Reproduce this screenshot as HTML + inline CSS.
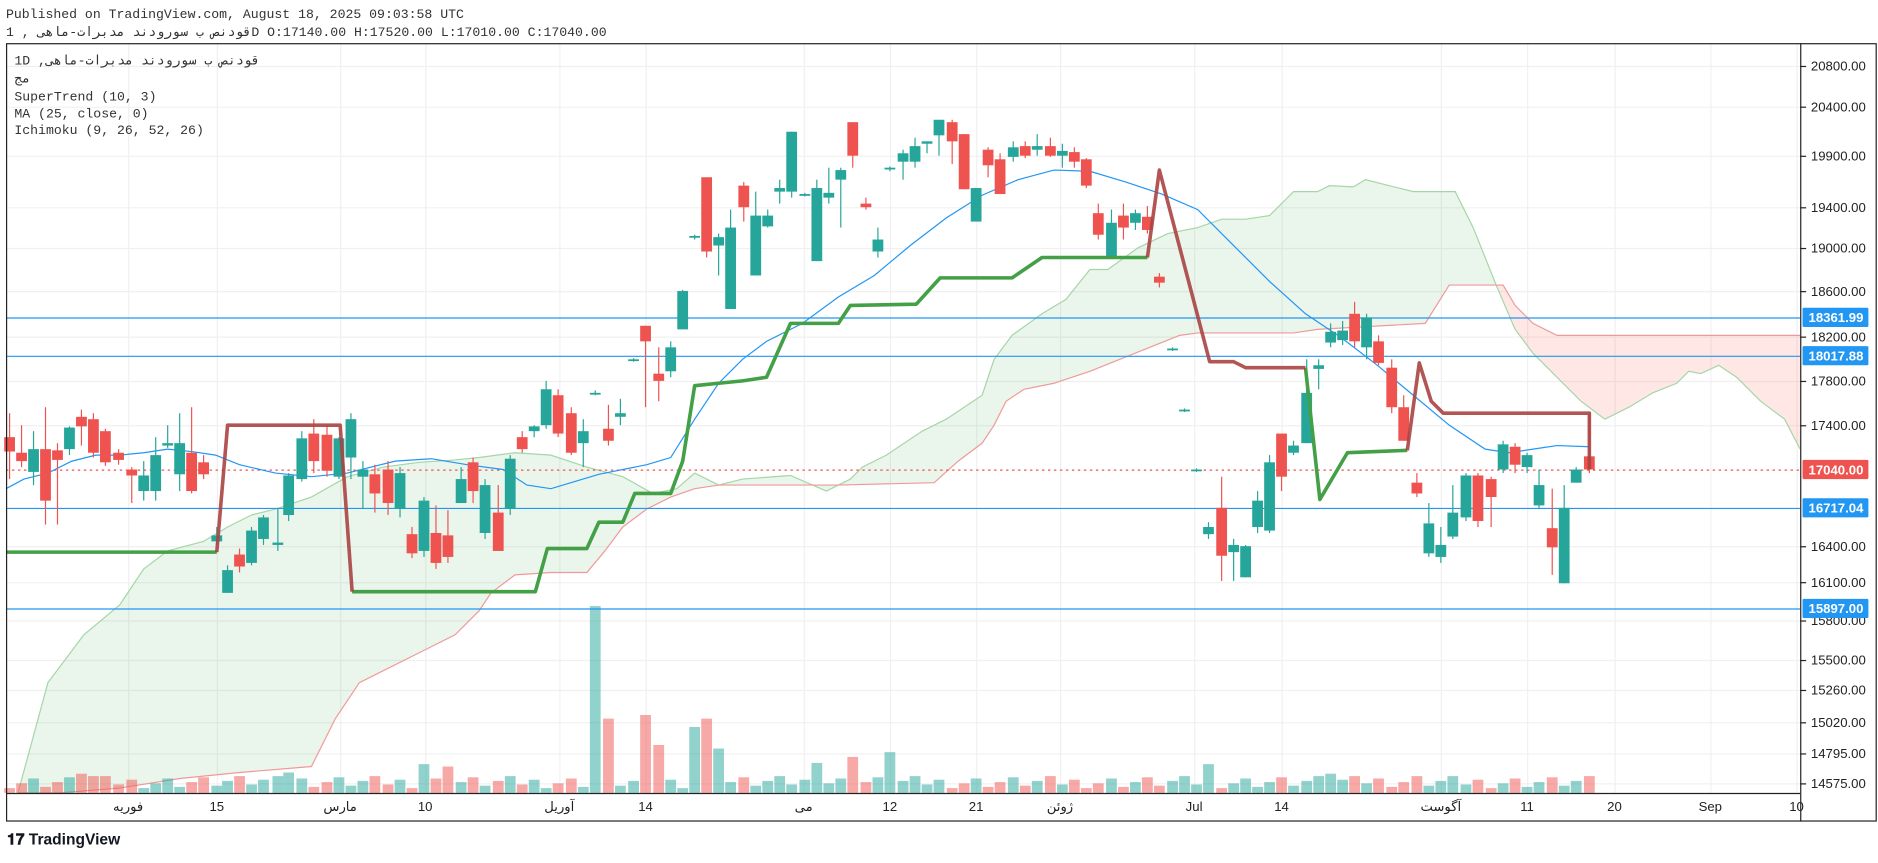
<!DOCTYPE html><html><head><meta charset="utf-8"><style>
body{margin:0;background:#fff;width:1878px;height:858px;overflow:hidden;font-family:"Liberation Mono","DejaVu Sans Mono","Noto Sans CJK SC",monospace}
</style></head><body>
<svg id="s" width="1878" height="858" xmlns="http://www.w3.org/2000/svg" font-family="Liberation Sans, DejaVu Sans, sans-serif">
<g transform="scale(1.1977)">
<text x="5" y="15" font-size="11" font-family="Liberation Mono, DejaVu Sans Mono, monospace" fill="#333">Published on TradingView.com, August 18, 2025 09:03:58 UTC</text>
<text x="5" y="30" font-size="11" font-family="Liberation Mono, DejaVu Sans Mono, monospace" fill="#333">قودنص ب سورودند مدبرات-ماهی , 1D O:17140.00 H:17520.00 L:17010.00 C:17040.00</text>
<g id="grid" stroke="#f0f0f0" stroke-width="1"></g>
<g id="cloud"></g>
<g id="vol"></g>
<g id="lines"></g>
<g id="candles"></g>
<g id="top"></g>
<rect x="5.5" y="36.5" width="1561" height="649" fill="none" stroke="#222"/>
<line x1="1503.5" y1="36" x2="1503.5" y2="686" stroke="#222"/>
<line x1="5" y1="662.5" x2="1503" y2="662.5" stroke="#222"/>
<g font-size="11" font-family="Liberation Mono, DejaVu Sans Mono, monospace" fill="#333">
<text x="12" y="54">1D ,قودنص ب سورودند مدبرات-ماهی</text>
<text x="12" y="69">مج</text>
<text x="12" y="84">SuperTrend (10, 3)</text>
<text x="12" y="98">MA (25, close, 0)</text>
<text x="12" y="112">Ichimoku (9, 26, 52, 26)</text>
</g>
<g id="axis" font-size="11" fill="#222"></g>
<g font-size="12" font-weight="bold" fill="#131722">
<text x="6" y="705" font-size="13">𝟏𝟕 TradingView</text>
</g>
</g>
</svg>
<script>
const NS="http://www.w3.org/2000/svg";
function el(p,t,a,txt){const e=document.createElementNS(NS,t);for(const k in a)e.setAttribute(k,a[k]);if(txt!==undefined)e.textContent=txt;document.getElementById(p).appendChild(e);return e;}
const pl=a=>a.map(p=>p.join(',')).join(' ');
const gy=[55,89,130,173,207,243,281,318,355,456,486,518,551,576,603,629,654];
gy.forEach(y=>el('grid','line',{x1:5,x2:1503,y1:y+.5,y2:y+.5}));
const tx=[[107,'فوریه'],[181,'15'],[284,'مارس'],[355,'10'],[467,'آوریل'],[539,'14'],[671,'می'],[743,'12'],[815,'21'],[885,'ژوئن'],[997,'Jul'],[1070,'14'],[1203,'آگوست'],[1275,'11'],[1348,'20'],[1428,'Sep'],[1500,'10']];
tx.forEach(t=>el('grid','line',{x1:t[0]+.5,x2:t[0]+.5,y1:36,y2:662}));
const A=[[15,662],[40,570],[70,530],[100,505],[120,475],[140,460],[170,452],[190,440],[210,430],[230,425],[260,415],[290,398],[320,390],[350,386],[380,384],[400,382],[430,378],[460,380],[490,390],[520,398],[545,412],[565,408],[580,395],[600,405],[620,400],[660,397],[690,410],[710,400],[720,390],[740,380],[770,360],[790,350],[820,330],[830,300],[845,280],[870,262],[890,250],[910,225],[925,225],[950,207],[975,195],[1000,190],[1020,183],[1040,183],[1060,180],[1080,160],[1100,160],[1110,155],[1130,156],[1140,150],[1160,155],[1180,160],[1215,160],[1230,190],[1250,240]];
const A2=[[1250,240],[1265,275],[1280,295],[1300,315],[1320,335],[1340,350],[1360,340],[1380,328],[1400,320],[1410,310],[1420,312],[1435,305],[1450,315],[1470,335],[1490,350],[1503,375]];
const B=[[15,662],[50,662],[100,658],[150,650],[200,645],[260,640],[280,600],[300,570],[320,560],[340,550],[360,540],[380,530],[400,510],[410,495],[430,480],[460,478],[490,478],[505,460],[520,440],[540,425],[560,415],[580,408],[600,405],[700,405],[780,403],[800,385],[820,370],[830,355],[840,335],[855,325],[880,320],[910,310],[960,290],[985,280],[1000,278],[1080,278],[1100,275],[1190,270],[1210,238],[1250,238]];
const B2=[[1250,238],[1255,238],[1265,255],[1280,270],[1300,280],[1503,280]];
el('cloud','polygon',{points:pl(A.concat(B.slice().reverse())),fill:'rgba(67,160,71,0.11)'});
el('cloud','polygon',{points:pl(A2.concat(B2.slice().reverse())),fill:'rgba(244,67,54,0.13)'});
el('cloud','polyline',{points:pl(A.concat(A2)),fill:'none',stroke:'#a5d6a7','stroke-width':1});
el('cloud','polyline',{points:pl(B.concat(B2)),fill:'none',stroke:'#ef9a9a','stroke-width':1});
[265,297,424,508].forEach(y=>el('lines','line',{x1:5,x2:1503,y1:y+.5,y2:y+.5,stroke:'#2196f3','stroke-width':1}));
el('lines','line',{x1:5,x2:1503,y1:392.5,y2:392.5,stroke:'#ef5350','stroke-width':1,'stroke-dasharray':'2,3'});
const MA=[[5,408],[20,400],[40,395],[60,385],[80,380],[100,380],[120,378],[140,375],[160,377],[180,380],[200,388],[230,395],[260,398],[290,395],[330,385],[360,383],[390,388],[420,392],[440,405],[460,408],[500,396],[540,388],[560,382],[580,350],[600,320],[620,300],[640,285],[670,270],[700,248],[730,230],[760,205],[790,182],[820,163],[850,150],[880,142],[910,143],[940,152],[970,162],[1000,175],[1030,205],[1060,235],[1090,262],[1120,282],[1150,305],[1180,330],[1210,355],[1240,375],[1260,378],[1280,375],[1300,372],[1327,373]];
el('lines','polyline',{points:pl(MA),fill:'none',stroke:'#2196f3','stroke-width':1});
const vols={497:506,508:600,528:570,539:597,550:622,580:607,590:600,600:625,743:628,712:632,682:637,354:638,374:640,249:634,259:637,1009:638,68:646,78:648,232:648,241:645,1111:646,1131:648,1183:648};
const C=[[8,'R',345,365,377,400],[18,'R',355,378,385,390],[28,'G',360,375,394,405],[38,'R',340,375,418,438],[48,'R',370,376,384,438],[58,'G',356,357,375,380],[68,'R',342,348,356,372],[78,'R',345,350,378,382],[88,'R',358,360,386,389],[99,'R',375,378,384,388],[110,'R',390,392,397,420],[120,'G',385,397,410,418],[130,'G',365,380,410,418],[140,'G',355,370,372,374],[150,'G',345,370,396,410],[160,'R',340,378,410,412],[170,'R',380,386,396,400],[181,'G',440,447,452,455],[190,'G',472,476,495,495],[200,'R',458,463,473,478],[210,'G',440,443,470,472],[220,'G',430,432,450,455],[232,'G',425,453,455,460],[241,'G',395,397,430,435],[252,'G',360,366,400,402],[262,'R',350,362,385,395],[273,'R',355,363,393,398],[283,'G',365,366,398,400],[293,'G',345,350,382,400],[303,'G',385,392,398,425],[313,'R',388,396,412,428],[324,'R',385,392,420,430],[334,'G',390,395,425,432],[344,'R',440,446,462,466],[354,'G',415,418,460,465],[364,'R',422,445,470,475],[374,'R',426,447,465,470],[385,'G',390,400,420,420],[395,'R',382,386,410,420],[405,'G',400,405,445,450],[416,'R',405,428,460,460],[426,'G',380,383,425,430],[436,'R',360,365,375,378],[446,'G',355,356,360,365],[456,'G',318,325,355,358],[466,'R',325,330,362,365],[477,'R',340,345,378,380],[487,'G',350,360,370,390],[497,'G',326,328,329,330],[508,'R',338,358,368,372],[518,'G',333,345,348,355],[529,'G',299,300,301,302],[539,'R',272,272,285,340],[550,'R',290,312,318,335],[560,'G',285,290,310,315],[570,'G',242,243,275,275],[580,'G',196,197,198,200],[590,'R',148,148,210,215],[600,'G',195,198,205,230],[610,'G',175,190,258,258],[621,'R',152,155,173,185],[631,'G',160,180,230,230],[641,'G',175,180,189,190],[651,'G',150,157,160,170],[661,'G',110,110,160,165],[672,'G',161,162,163,164],[682,'G',150,157,218,218],[692,'G',140,161,165,170],[702,'G',140,142,150,190],[712,'R',102,102,130,140],[723,'R',165,170,173,175],[733,'G',190,200,210,215],[743,'G',139,140,141,143],[754,'G',125,128,135,150],[764,'G',115,122,135,140],[774,'G',118,118,120,128],[784,'G',100,100,113,130],[795,'R',100,102,118,137],[805,'R',112,112,158,158],[815,'G',157,157,185,185],[825,'R',123,125,138,148],[835,'R',128,133,162,162],[846,'G',118,123,131,135],[856,'R',118,122,130,132],[866,'G',112,122,125,130],[877,'R',115,122,130,131],[887,'G',120,126,130,140],[897,'R',123,127,135,140],[907,'R',132,133,155,157],[917,'R',170,178,196,200],[928,'G',175,186,216,216],[938,'R',170,180,190,200],[948,'G',175,178,186,192],[958,'R',172,181,192,195],[968,'R',228,231,236,240],[979,'G',290,291,292,293],[989,'G',341,342,343,344],[999,'G',391,392,393,394],[1009,'G',436,440,446,450],[1020,'R',398,424,464,485],[1030,'G',450,455,461,485],[1040,'G',455,456,482,482],[1050,'G',410,418,440,445],[1060,'G',380,386,443,445],[1070,'R',362,362,398,410],[1080,'G',368,372,378,380],[1091,'G',300,328,370,370],[1101,'G',300,305,308,325],[1111,'G',270,277,286,290],[1121,'G',268,276,284,288],[1131,'R',252,262,285,290],[1141,'G',262,265,290,300],[1151,'R',280,285,303,305],[1162,'R',300,307,340,345],[1172,'R',330,340,368,368],[1183,'R',395,403,412,415],[1193,'G',420,437,462,465],[1203,'G',440,455,465,470],[1213,'G',405,428,448,450],[1224,'G',395,397,432,435],[1234,'R',395,397,435,440],[1245,'R',398,400,415,440],[1255,'G',368,371,392,395],[1265,'R',370,373,388,395],[1275,'G',378,380,390,395],[1285,'G',392,405,422,425],[1296,'R',408,441,457,480],[1306,'G',405,424,487,487],[1316,'G',390,392,403,403],[1327,'R',345,381,392,395]];
C.forEach((c,i)=>{const col=c[1]=='G'?'#26a69a':'#ef5350';
 el('candles','line',{x1:c[0],x2:c[0],y1:c[2],y2:c[5],stroke:col,'stroke-width':1});
 el('candles','rect',{x:c[0]-4.5,y:c[3],width:9,height:Math.max(1.5,c[4]-c[3]),fill:col});
 let top=vols[c[0]]||(662-4-((i*37)%11));
 el('vol','rect',{x:c[0]-4.5,y:top,width:9,height:662-top,fill:c[1]=='G'?'rgba(38,166,154,0.5)':'rgba(239,83,80,0.5)'});
});
const STg=[[[5,461],[181,461]],[[294,494],[447,494],[457,458],[490,458],[500,436],[520,436],[530,412],[560,412],[570,385],[580,322],[600,320],[620,318],[640,315],[660,270],[700,270],[710,255],[765,254],[785,232],[845,232],[870,215],[900,215],[958,215]],[[1090,307],[1102,417],[1125,378],[1175,376]]];
const STr=[[[181,461],[190,355],[284,355],[294,494]],[[958,215],[968,142],[1010,302],[1030,302],[1040,307],[1090,307]],[[1175,376],[1185,303],[1195,335],[1205,345],[1327,345],[1327,392]]];
STg.forEach(p=>el('top','polyline',{points:pl(p),fill:'none',stroke:'#43a047','stroke-width':3,'stroke-linejoin':'round'}));
STr.forEach(p=>el('top','polyline',{points:pl(p),fill:'none',stroke:'#a94442','stroke-width':3,'stroke-linejoin':'round','stroke-opacity':0.9}));
const lab=[['20800.00',55],['20400.00',89],['19900.00',130],['19400.00',173],['19000.00',207],['18600.00',243],['18200.00',281],['17800.00',318],['17400.00',355],['16400.00',456],['16100.00',486],['15800.00',518],['15500.00',551],['15260.00',576],['15020.00',603],['14795.00',629],['14575.00',654]];
lab.forEach(l=>{el('axis','line',{x1:1503,x2:1508,y1:l[1]+.5,y2:l[1]+.5,stroke:'#222'});el('axis','text',{x:1512,y:l[1]+4},l[0]);});
[['18361.99',265,'#2196f3'],['18017.88',297,'#2196f3'],['17040.00',392,'#ef5350'],['16717.04',424,'#2196f3'],['15897.00',508,'#2196f3']].forEach(b=>{
 el('axis','rect',{x:1505,y:b[1]-8,width:55,height:16,fill:b[2],rx:1});
 el('axis','text',{x:1510,y:b[1]+4,fill:'#fff','font-weight':'bold'},b[0]);});
tx.forEach(t=>el('axis','text',{x:t[0],y:677,'text-anchor':'middle','font-size':11},t[1]));
</script>
</body></html>
